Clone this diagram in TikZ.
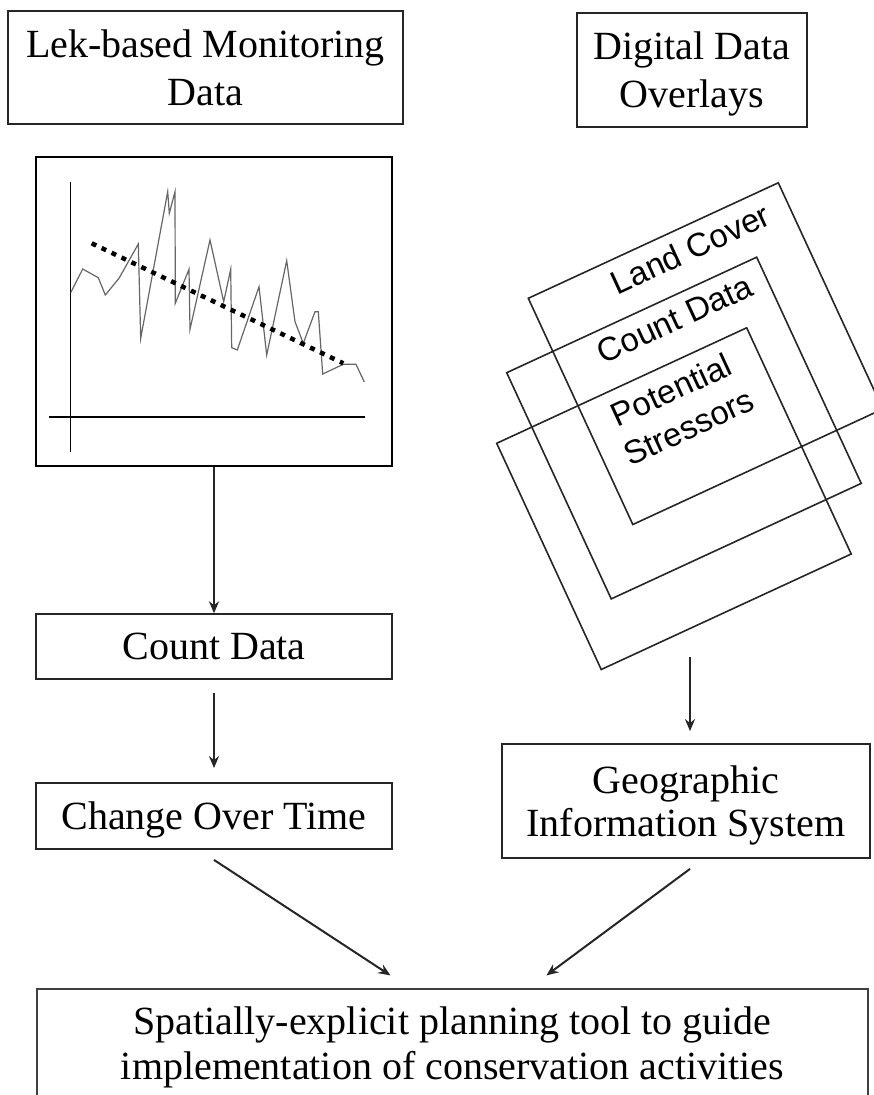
\documentclass[tikz,border=0pt]{standalone}
\usepackage{fontspec}
\setmainfont{Liberation Serif}
\newfontfamily\layerfont{Liberation Sans}
\usetikzlibrary{positioning, arrows.meta, calc}

\begin{document}
\begin{tikzpicture}[
  x=1pt, y=-1pt,
  every node/.style={align=center, font=\fontsize{40}{48}\selectfont},
  box/.style={rectangle, draw=black!85, line width=1.8pt, inner sep=0pt},
  chartbox/.style={rectangle, draw=black, line width=2.6pt, inner sep=0pt},
  layer/.style={draw=black!85, line width=1.6pt},
  layerlabel/.style={font=\layerfont\fontsize{33}{41}\selectfont, rotate=24.8, inner sep=0pt},
  arr/.style={-{Stealth[length=12pt, width=10pt]}, line width=2pt, black!85}
]
\useasboundingbox (0,0) rectangle (873,1095);

% Top nodes
\node[box, minimum width=395pt, minimum height=113pt] (lek) at (205.5,67.5) {Lek-based Monitoring\\Data};
\node[box, minimum width=230pt, minimum height=114pt, text depth=0pt] (overlay) at (692,70) {Digital Data\\Overlays};

% Monitoring chart
\node[chartbox, minimum width=356pt, minimum height=309pt] (chart) at (214,311.5) {};
\draw[line width=1.1pt] (70.7,182) -- (70.7,452);
\draw[line width=1.1pt] (49,417) -- (365,417);
\draw[black!60, line width=1.2pt] plot coordinates {(70.7,292.7) (82.7,269) (98.3,277.7) (105.3,295) (119,278.3)
  (138.3,244) (140.7,338.3) (167.7,191.7) (169.3,213.3) (175,191.7) (175.3,303.3) (189,269.3) (190,329.3)
  (210,240) (223.7,301.7) (230.7,269.3) (231.7,347.7) (237.3,350) (259,286.7) (266.7,355) (286.7,260.7)
  (295,321.7) (303.3,343.3) (315,311.7) (318.3,311.7) (322.7,374) (343.3,364.3) (356,364.3) (364.3,382)};
\draw[line width=4.5pt, dash pattern=on 5pt off 6pt] (91.7,243.3) -- (343.3,363.3);

% Overlay layers
\foreach \px/\py/\lx/\ly/\txt in {528.3/298.3/168/23/{Land Cover}, 506.7/372.7/175/22/{Count Data}, 496.7/443.3/181/45/{Potential\\Stressors}} {
  \begin{scope}[shift={(\px,\py)}, rotate=24.8]
    \draw[layer] (0,0) rectangle (275.4,249.2);
    \node[layerlabel] at (\lx,\ly) {\txt};
  \end{scope}
}
\coordinate (stack) at (690,657);

% Left column
\node[box, minimum width=356pt, minimum height=65pt, below=146pt of chart] (count) {Count Data};
\node[box, minimum width=356pt, minimum height=66pt, text depth=0pt, below=102pt of count] (change) {Change Over Time};

% Right column and result
\node[box, minimum width=368pt, minimum height=114pt, text depth=0pt, font=\fontsize{40}{43}\selectfont] (gis) at (686,801) {Geographic\\Information System};
\node[box, draw=black!75, line width=1.2pt, minimum width=831pt, minimum height=117pt, font=\fontsize{40}{45}\selectfont] (plan) at (452.5,1047.5) {Spatially-explicit planning tool to guide\\implementation of conservation activities};

% Vertical arrows
\draw[arr] (chart.south) -- (count.north);
\draw[arr, shorten <=13pt, shorten >=14pt] (count.south) -- (change.north);
\draw[arr, shorten >=12pt] (stack) -- (stack |- gis.north);

% Merging arrows
\draw[arr] ([yshift=-10pt]change.south) -- ([xshift=354pt, yshift=13pt]plan.north west);
\draw[arr] ($(stack |- gis.south)+(0,10)$) -- ([xshift=510pt, yshift=13pt]plan.north west);

\end{tikzpicture}
\end{document}
